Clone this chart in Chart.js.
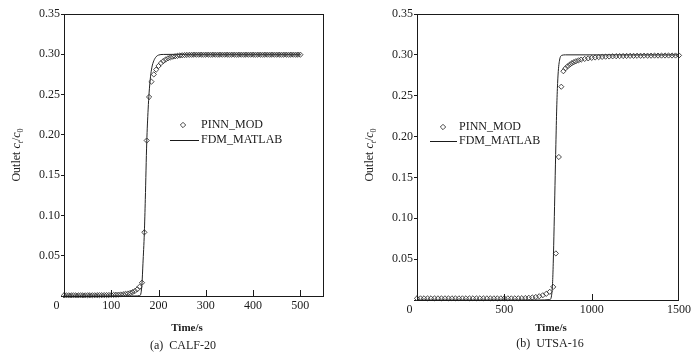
<!DOCTYPE html>
<html><head><meta charset="utf-8">
<script src="https://cdn.jsdelivr.net/npm/chart.js@4/dist/chart.umd.min.js"></script>
<style>
html,body{margin:0;padding:0;background:#fff;}
#wrap{position:relative;width:699px;height:358px;overflow:hidden;background:#fff;}
.panel{position:absolute;top:0;height:358px;}
canvas{display:block;}
</style></head><body>
<div id="wrap">
<div class="panel" style="left:0;width:350px"><canvas id="cA" width="350" height="358"></canvas></div>
<div class="panel" style="left:350px;width:349px"><canvas id="cB" width="349" height="358"></canvas></div>
</div>
<script>
// ---------- DATA ----------
const seriesNames = ['PINN_MOD', 'FDM_MATLAB'];
const xTitle = 'Time/s';
const captionA = '(a)  CALF-20';
const captionB = '(b)  UTSA-16';
const yTickLabels = ['0.05','0.10','0.15','0.20','0.25','0.30','0.35'];
const xTickLabelsA = ['0','100','200','300','400','500'];
const xTickLabelsB = ['0','500','1000','1500'];

// (a) CALF-20 — PINN_MOD markers
const timeA_pinn = [0,5,10,15,20,25,30,35,40,45,50,55,60,65,70,75,80,85,90,95,
 100,105,110,115,120,125,130,135,140,145,150,155,160,165,170,175,180,185,190,195,
 200,205,210,215,220,225,230,235,240,245,250,255,260,265,270,275,280,285,290,295,
 300,305,310,315,320,325,330,335,340,345,350,355,360,365,370,375,380,385,390,395,
 400,405,410,415,420,425,430,435,440,445,450,455,460,465,470,475,480,485,490,495,500];
const valA_pinn = [0.0008,0.0008,0.0008,0.0008,0.0008,0.0008,0.0008,0.0008,0.0008,0.0008,
 0.0009,0.0009,0.0009,0.0009,0.0010,0.0010,0.0010,0.0011,0.0011,0.0012,
 0.0013,0.0014,0.0015,0.0017,0.0019,0.0022,0.0026,0.0031,0.0038,0.0048,
 0.0062,0.0083,0.0115,0.0165,0.079,0.193,0.247,0.266,0.275,0.281,
 0.2855,0.289,0.2915,0.2935,0.295,0.296,0.297,0.2975,0.298,0.2985,
 0.2988,0.299,0.2992,0.2993,0.2994,0.2995,0.2995,0.2995,0.2995,0.2995,
 0.2995,0.2995,0.2995,0.2995,0.2995,0.2995,0.2995,0.2995,0.2995,0.2995,
 0.2995,0.2995,0.2995,0.2995,0.2995,0.2995,0.2995,0.2995,0.2995,0.2995,
 0.2995,0.2995,0.2995,0.2995,0.2995,0.2995,0.2995,0.2995,0.2995,0.2995,
 0.2995,0.2995,0.2995,0.2995,0.2995,0.2995,0.2995,0.2995,0.2995,0.2995,0.2995];
// (a) CALF-20 — FDM_MATLAB line
const timeA_fdm = [0,100,150,160,163,165,167,170,172,175,178,180,183,186,190,195,200,210,250,500];
const valA_fdm  = [0,0,0,0.0005,0.004,0.016,0.04,0.079,0.12,0.19,0.232,0.252,0.272,0.284,0.292,0.297,0.299,0.2998,0.3,0.3];

// (b) UTSA-16 — PINN_MOD markers
const timeB_pinn = [0,20,40,60,80,100,120,140,160,180,200,220,240,260,280,300,320,340,360,380,
 400,420,440,460,480,500,520,540,560,580,600,620,640,660,680,700,720,740,760,
 780,795,812,826,838,850,862,874,886,898,910,925,940,
 960,980,1000,1020,1040,1060,1080,1100,1120,1140,1160,1180,1200,
 1220,1240,1260,1280,1300,1320,1340,1360,1380,1400,1420,1440,1460,1480,1500];
const valB_pinn = [0.002,0.002,0.002,0.002,0.002,0.002,0.002,0.002,0.002,0.002,
 0.002,0.002,0.002,0.002,0.002,0.002,0.002,0.002,0.002,0.002,
 0.002,0.002,0.002,0.002,0.002,0.002,0.002,0.002,0.002,
 0.0021,0.0022,0.0024,0.0027,0.0031,0.0037,0.0046,0.0058,0.0075,0.0100,
 0.016,0.057,0.175,0.261,0.280,0.2835,0.2860,0.2880,0.2897,0.2911,0.2922,0.2933,0.2942,
 0.2950,0.2957,0.2963,0.2968,0.2972,0.2975,0.2978,0.2980,0.2982,0.2984,0.2985,0.2986,0.2987,
 0.2988,0.2988,0.2989,0.2989,0.2990,0.2990,0.2990,0.2991,0.2991,0.2991,0.2992,0.2992,0.2992,0.2992,0.2993];
// (b) UTSA-16 — FDM_MATLAB line
const timeB_fdm = [0,500,700,760,770,776,780,785,790,795,800,805,810,815,820,830,850,1500];
const valB_fdm  = [0,0,0,0.0005,0.005,0.02,0.045,0.09,0.14,0.19,0.235,0.265,0.283,0.292,0.297,0.2995,0.3,0.3];

// ---------- DRAWING ----------
const FONT = "'Liberation Serif', 'DejaVu Serif', serif";
const INK = '#1a1a1a';
const pts = (xs, ys) => xs.map((x, i) => ({x: x, y: ys[i]}));

const deco = {
  id: 'deco',
  afterDraw(chart, args, o) {
    const ctx = chart.ctx, a = chart.chartArea, xs = chart.scales.x;
    ctx.save();
    ctx.strokeStyle = INK; ctx.lineWidth = 1;
    // frame
    ctx.strokeRect(Math.round(a.left) + 0.5, Math.round(a.top) + 0.5,
                   Math.round(a.right - a.left) - 1, Math.round(a.bottom - a.top));
    // inward x ticks
    xs.ticks.forEach(t => {
      if (t.value > xs.min && t.value < xs.max && t.label !== '') {
        const px = Math.round(xs.getPixelForValue(t.value)) + 0.5;
        ctx.beginPath(); ctx.moveTo(px, a.bottom); ctx.lineTo(px, a.bottom - 6); ctx.stroke();
      }
    });
    ctx.fillStyle = INK;
    // y-axis label with italic / subscripts
    const parts = [
      ['Outlet ', '12px ' + FONT, 0], ['c', 'italic 12px ' + FONT, 0], ['t', 'italic 8px ' + FONT, 3],
      ['/', '12px ' + FONT, 0], ['c', 'italic 12px ' + FONT, 0], ['0', '8px ' + FONT, 3]];
    let total = 0;
    parts.forEach(p => { ctx.font = p[1]; total += ctx.measureText(p[0]).width; });
    ctx.translate(o.yLab[0], o.yLab[1]); ctx.rotate(-Math.PI / 2);
    ctx.textBaseline = 'alphabetic'; ctx.textAlign = 'left';
    let cx = -total / 2;
    parts.forEach(p => { ctx.font = p[1]; ctx.fillText(p[0], cx, 4 + p[2]); cx += ctx.measureText(p[0]).width; });
    ctx.setTransform(1, 0, 0, 1, 0, 0);
    // legend
    const L = o.legend;
    const r = 2.7;
    ctx.beginPath();
    ctx.moveTo(L.mx, L.my - r); ctx.lineTo(L.mx + r, L.my); ctx.lineTo(L.mx, L.my + r); ctx.lineTo(L.mx - r, L.my); ctx.closePath();
    ctx.strokeStyle = '#333'; ctx.lineWidth = 0.9; ctx.stroke();
    ctx.beginPath(); ctx.strokeStyle = INK; ctx.lineWidth = 1;
    ctx.moveTo(L.lx1, L.ly + 0.5); ctx.lineTo(L.lx2, L.ly + 0.5); ctx.stroke();
    ctx.fillStyle = INK; ctx.font = '12px ' + FONT; ctx.textBaseline = 'middle'; ctx.textAlign = 'left';
    ctx.fillText(seriesNames[0], L.tx, L.my);
    ctx.fillText(seriesNames[1], L.tx, L.ly);
    // x title and caption
    ctx.textAlign = 'center';
    ctx.font = 'bold 11px ' + FONT;
    ctx.fillText(xTitle, o.xTitle[0], o.xTitle[1]);
    ctx.font = '12px ' + FONT;
    ctx.fillText(o.caption, o.cap[0], o.cap[1]);
    ctx.restore();
  }
};

function makeChart(id, cfg) {
  return new Chart(document.getElementById(id), {
    type: 'line',
    data: {
      datasets: [
        { label: seriesNames[0], data: pts(cfg.pt, cfg.pv), showLine: false,
          pointStyle: 'rectRot', pointRadius: 2.6, pointBorderWidth: 0.9,
          pointBorderColor: '#333', pointBackgroundColor: 'rgba(255,255,255,0)', clip: 6 },
        { label: seriesNames[1], data: pts(cfg.ft, cfg.fv), showLine: true,
          borderColor: '#222', borderWidth: 1, pointRadius: 0, fill: false,
          cubicInterpolationMode: 'monotone' }
      ]
    },
    options: {
      responsive: false, animation: false, events: [],
      layout: { padding: { top: cfg.top, right: cfg.right, left: 0, bottom: 0 } },
      plugins: { legend: { display: false }, tooltip: { enabled: false }, deco: cfg.deco },
      scales: {
        x: { type: 'linear', min: 0, max: cfg.xmax,
          afterFit: s => { s.height = cfg.xh; },
          grid: { display: false, drawTicks: false }, border: { display: false },
          ticks: { stepSize: cfg.step, includeBounds: false, maxRotation: 0, autoSkip: false, padding: 3, color: INK,
            font: { family: FONT, size: 12 },
            callback: v => { const k = cfg.xlabels.indexOf(String(v)); if (k < 0) return ''; return v === 0 ? '0     ' : cfg.xlabels[k]; } } },
        y: { min: 0, max: 0.35,
          afterFit: s => { s.width = cfg.left; },
          grid: { drawOnChartArea: false, drawTicks: true, tickLength: 3, color: INK },
          border: { display: false },
          ticks: { stepSize: 0.05, padding: 1, color: INK, font: { family: FONT, size: 12 },
            callback: v => { const s = (Math.round(v * 100) / 100).toFixed(2); return yTickLabels.includes(s) ? s : ''; } } }
      }
    },
    plugins: [deco]
  });
}

makeChart('cA', {
  pt: timeA_pinn, pv: valA_pinn, ft: timeA_fdm, fv: valA_fdm,
  xmax: 550, step: 100, xlabels: xTickLabelsA,
  left: 64, right: 26, top: 14, xh: 62,
  deco: { yLab: [16, 155], legend: { mx: 183, my: 125, lx1: 170, lx2: 199, ly: 140, tx: 201 },
          xTitle: [187, 328], cap: [183, 346], caption: captionA }
});
makeChart('cB', {
  pt: timeB_pinn, pv: valB_pinn, ft: timeB_fdm, fv: valB_fdm,
  xmax: 1500, step: 500, xlabels: xTickLabelsB,
  left: 67, right: 20, top: 14, xh: 58,
  deco: { yLab: [19, 155], legend: { mx: 93, my: 127, lx1: 80, lx2: 107, ly: 141, tx: 109 },
          xTitle: [201, 328], cap: [200, 344], caption: captionB }
});
</script>
</body></html>
